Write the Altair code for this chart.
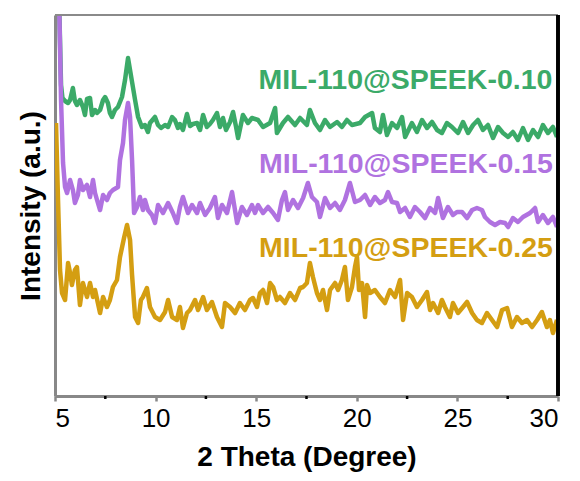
import altair as alt
import pandas as pd

# 2-theta (degree), intensity (a.u.)
green = [
    (5.22, 381), (5.30, 311), (5.37, 298), (5.50, 295), (5.65, 293), (5.75, 296), (5.89, 308), (5.99, 295),
    (6.09, 291), (6.24, 296), (6.39, 289), (6.49, 281), (6.59, 297), (6.74, 298), (6.84, 281),
    (6.99, 286), (7.09, 283), (7.24, 286), (7.39, 296), (7.49, 299), (7.63, 293), (7.73, 283),
    (7.83, 279), (7.98, 286), (8.13, 289), (8.33, 299), (8.48, 316), (8.63, 338), (8.83, 314),
    (8.98, 296), (9.13, 279), (9.32, 269), (9.47, 271), (9.62, 264), (9.72, 273), (9.97, 279),
    (10.12, 271), (10.27, 268), (10.47, 271), (10.62, 269), (10.82, 279), (10.96, 276), (11.11, 268),
    (11.21, 272), (11.36, 266), (11.56, 282), (11.71, 270), (11.86, 272), (12.06, 273), (12.21, 266),
    (12.36, 281), (12.55, 269), (12.70, 272), (12.85, 276), (13.05, 283), (13.20, 269), (13.35, 278),
    (13.50, 266), (13.70, 274), (13.85, 284), (14.00, 269), (14.10, 258), (14.34, 281), (14.59, 273),
    (14.79, 278), (15.09, 276), (15.34, 269), (15.69, 273), (15.94, 288), (16.03, 263), (16.33, 273),
    (16.58, 279), (16.93, 271), (17.18, 278), (17.52, 271), (17.67, 286), (17.92, 273), (18.17, 266),
    (18.42, 276), (18.67, 269), (19.02, 274), (19.26, 269), (19.51, 276), (19.76, 271), (20.16, 273),
    (20.41, 279), (20.76, 283), (20.90, 268), (21.15, 264), (21.30, 281), (21.50, 261), (21.75, 273),
    (22.00, 268), (22.25, 279), (22.40, 259), (22.74, 273), (22.99, 264), (23.24, 276), (23.49, 268),
    (23.74, 274), (23.99, 266), (24.23, 263), (24.48, 273), (24.73, 269), (25.03, 263), (25.28, 274),
    (25.53, 263), (25.78, 271), (26.02, 276), (26.27, 266), (26.52, 271), (26.77, 258), (27.02, 269),
    (27.27, 263), (27.52, 259), (27.76, 264), (28.01, 256), (28.26, 268), (28.51, 256), (28.76, 266),
    (29.01, 259), (29.25, 271), (29.50, 263), (29.75, 269), (29.95, 259),
]

purple = [
    (5.20, 400), (5.30, 296), (5.40, 233), (5.50, 209), (5.60, 203), (5.75, 216), (5.89, 206),
    (5.99, 193), (6.14, 201), (6.24, 216), (6.39, 206), (6.59, 211), (6.74, 199), (6.89, 216),
    (6.99, 203), (7.09, 196), (7.24, 186), (7.39, 201), (7.58, 196), (7.73, 203), (7.88, 206),
    (8.13, 209), (8.23, 236), (8.38, 253), (8.48, 276), (8.63, 293), (8.73, 279), (8.83, 236),
    (8.93, 183), (9.08, 189), (9.22, 199), (9.37, 186), (9.47, 196), (9.62, 186), (9.82, 181),
    (9.97, 173), (10.12, 191), (10.37, 183), (10.62, 193), (10.86, 183), (11.06, 173), (11.21, 189),
    (11.36, 199), (11.61, 183), (11.81, 191), (12.06, 183), (12.21, 193), (12.46, 181), (12.70, 188),
    (12.95, 199), (13.10, 178), (13.30, 191), (13.55, 183), (13.80, 204), (14.05, 173), (14.29, 189),
    (14.54, 181), (14.79, 191), (14.94, 183), (15.09, 191), (15.34, 183), (15.59, 189), (15.84, 183),
    (16.08, 176), (16.28, 196), (16.43, 204), (16.58, 186), (16.83, 196), (17.08, 188), (17.33, 198),
    (17.57, 213), (17.77, 199), (18.02, 194), (18.17, 179), (18.42, 198), (18.67, 188), (18.92, 193),
    (19.16, 186), (19.41, 196), (19.66, 213), (19.91, 194), (20.16, 196), (20.41, 201), (20.66, 191),
    (20.90, 199), (21.15, 193), (21.40, 196), (21.55, 204), (21.75, 194), (22.00, 193), (22.15, 184),
    (22.40, 188), (22.64, 179), (22.89, 189), (23.14, 184), (23.39, 178), (23.64, 188), (23.89, 183),
    (24.04, 198), (24.28, 178), (24.53, 189), (24.78, 181), (24.98, 184), (25.23, 184), (25.48, 178),
    (25.73, 186), (25.97, 188), (26.22, 186), (26.37, 179), (26.62, 174), (26.87, 171), (27.12, 174),
    (27.37, 173), (27.52, 169), (27.76, 178), (28.01, 174), (28.26, 179), (28.61, 183), (28.86, 188),
    (29.01, 174), (29.25, 181), (29.50, 173), (29.75, 179), (29.95, 169),
]

gold = [
    (5.05, 273), (5.15, 196), (5.25, 126), (5.35, 103), (5.50, 96), (5.65, 133), (5.75, 123),
    (5.84, 111), (5.99, 126), (6.09, 129), (6.24, 91), (6.39, 113), (6.59, 99), (6.74, 113),
    (6.89, 99), (6.99, 106), (7.24, 83), (7.39, 99), (7.58, 89), (7.73, 96), (7.88, 109),
    (8.08, 116), (8.23, 139), (8.43, 158), (8.58, 171), (8.73, 156), (8.83, 121), (8.98, 79),
    (9.13, 73), (9.27, 96), (9.37, 99), (9.57, 108), (9.72, 89), (9.97, 79), (10.22, 76),
    (10.47, 84), (10.62, 96), (10.82, 79), (11.06, 76), (11.21, 89), (11.36, 68), (11.56, 83),
    (11.71, 86), (11.96, 96), (12.11, 86), (12.36, 99), (12.55, 86), (12.80, 94), (13.05, 79),
    (13.30, 69), (13.45, 93), (13.70, 89), (13.95, 83), (14.19, 93), (14.44, 86), (14.69, 96),
    (14.84, 98), (15.04, 89), (15.19, 103), (15.34, 106), (15.54, 93), (15.69, 113), (15.84, 109),
    (16.03, 96), (16.18, 99), (16.43, 93), (16.68, 103), (16.93, 96), (17.18, 108), (17.33, 109),
    (17.52, 113), (17.67, 133), (17.82, 119), (18.02, 103), (18.17, 96), (18.32, 106), (18.52, 86),
    (18.67, 106), (18.92, 113), (19.07, 106), (19.26, 116), (19.41, 129), (19.56, 96), (19.76, 109),
    (19.91, 129), (20.01, 139), (20.11, 106), (20.26, 113), (20.41, 79), (20.51, 111), (20.66, 103),
    (20.90, 106), (21.15, 99), (21.40, 93), (21.65, 106), (21.90, 99), (22.15, 116), (22.30, 76),
    (22.50, 103), (22.74, 99), (22.99, 89), (23.24, 96), (23.49, 104), (23.64, 86), (23.79, 93),
    (24.04, 83), (24.23, 96), (24.38, 89), (24.63, 79), (24.78, 93), (25.03, 83), (25.28, 89),
    (25.48, 94), (25.73, 83), (25.97, 76), (26.22, 73), (26.47, 83), (26.72, 76), (26.97, 69),
    (27.22, 86), (27.47, 88), (27.71, 69), (27.96, 79), (28.21, 73), (28.46, 76), (28.71, 69),
    (28.96, 76), (29.20, 84), (29.45, 69), (29.60, 76), (29.75, 63), (29.95, 76),
]

series_names = ["MIL-110@SPEEK-0.10", "MIL-110@SPEEK-0.15", "MIL-110@SPEEK-0.25"]
series_colors = ["#3BAA68", "#B072E0", "#D49E12"]
label_x = [29.72, 29.75, 29.75]
label_y = [316, 232, 148]
x_ticks = [5, 10, 15, 20, 25, 30]
x_minor = [7.5, 12.5, 17.5, 22.5, 27.5]

FONT = "Liberation Sans"
W, H = 503, 381

rows = []
for name, pts in zip(series_names, [green, purple, gold]):
    for i, (x, y) in enumerate(pts):
        rows.append({"series": name, "x": x, "y": y, "order": i})
df = pd.DataFrame(rows)

labels_df = pd.DataFrame({"series": series_names, "x": label_x, "y": label_y})
minor_df = pd.DataFrame({"x": x_minor})

xscale = alt.Scale(domain=[5, 30], nice=False, zero=False)
yscale = alt.Scale(domain=[0, 381], nice=False, zero=False)
cscale = alt.Scale(domain=series_names, range=series_colors)

xaxis = alt.Axis(values=x_ticks, title="2 Theta (Degree)", grid=False, format="d",
                 labelFontSize=26, titleFontSize=28, labelPadding=4, titlePadding=12,
                 tickSize=5, tickWidth=2.5, domainWidth=3)
yaxis = alt.Axis(title="Intensity (a.u.)", labels=False, ticks=False, grid=False,
                 titleFontSize=28, titlePadding=10, domainWidth=3)

base = alt.Chart(df)


def line_layer(name):
    return base.transform_filter(alt.datum.series == name).mark_line(
        strokeWidth=4.5, clip=True, strokeJoin="round"
    ).encode(
        x=alt.X("x:Q", scale=xscale, axis=xaxis),
        y=alt.Y("y:Q", scale=yscale, axis=yaxis),
        color=alt.Color("series:N", scale=cscale, legend=None),
        order="order:Q",
    )


layers = [line_layer(series_names[0]), line_layer(series_names[2]), line_layer(series_names[1])]

text = alt.Chart(labels_df).mark_text(
    align="right", baseline="middle", fontSize=28.5, fontWeight="bold", font=FONT
).encode(
    x=alt.X("x:Q", scale=xscale),
    y=alt.Y("y:Q", scale=yscale),
    text="series:N",
    color=alt.Color("series:N", scale=cscale, legend=None),
)

minor = alt.Chart(minor_df).mark_rule(color="black", strokeWidth=2.5).encode(
    x=alt.X("x:Q", scale=xscale),
    y=alt.value(H),
    y2=alt.value(H + 3),
)

top_border = alt.Chart(minor_df).mark_rule(color="#8a8a8a", strokeWidth=2).encode(
    x=alt.value(0), x2=alt.value(W), y=alt.value(0)
)
right_border = alt.Chart(minor_df).mark_rule(color="black", strokeWidth=3).encode(
    x=alt.value(W), y=alt.value(0), y2=alt.value(H)
)

chart = alt.layer(*layers, text, minor, top_border, right_border).properties(
    width=W, height=H,
    padding={"left": 55, "top": 15, "right": 22, "bottom": 85},
    autosize=alt.AutoSizeParams(type="none"),
).configure_view(stroke=None).configure_axis(
    labelFont=FONT, titleFont=FONT, labelFontWeight="bold", titleFontWeight="bold",
    labelColor="black", titleColor="black", domainColor="black", tickColor="black",
).configure(background="white")

chart.save("out.html", embed_options={"renderer": "svg", "actions": False})
